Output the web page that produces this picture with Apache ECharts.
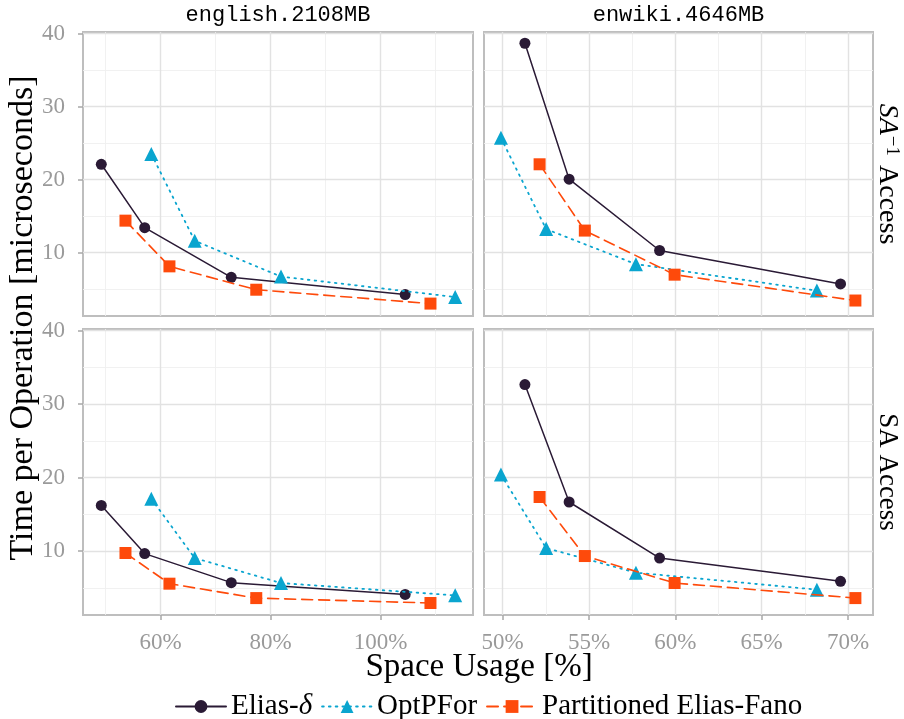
<!DOCTYPE html>
<html>
<head>
    <meta charset="utf-8">
    <title>Time per Operation vs Space Usage</title>
    <script src="https://cdn.jsdelivr.net/npm/echarts@6/dist/echarts.min.js"></script>
    <style>
        html, body { margin: 0; padding: 0; background: #fff; }
        #chart { width: 904px; height: 719px; }
    </style>
</head>
<body>
<div id="chart"></div>
<script>
    // space usage (%) per method, per text
    var engEliasX = [49.2, 57.1, 72.85, 104.5];
    var engOptX = [58.3, 66.2, 81.9, 113.6];
    var engPefX = [53.6, 61.6, 77.4, 109.1];
    var wikiEliasX = [51.29, 53.85, 59.09, 69.57];
    var wikiOptX = [49.9, 52.52, 57.72, 68.2];
    var wikiPefX = [52.14, 54.76, 59.96, 70.43];

    // time per operation (microseconds), SA^-1 access
    var engInvElias = [22.08, 13.4, 6.6, 4.24];
    var engInvOpt = [23.5, 11.6, 6.7, 3.9];
    var engInvPef = [14.36, 8.1, 4.9, 3.0];
    var wikiInvElias = [38.66, 20.04, 10.27, 5.69];
    var wikiInvOpt = [25.7, 13.2, 8.4, 4.78];
    var wikiInvPef = [22.08, 13.0, 6.96, 3.42];

    // time per operation (microseconds), SA access
    var engSaElias = [16.2, 9.65, 5.7, 4.1];
    var engSaOpt = [17.1, 9.05, 5.65, 3.97];
    var engSaPef = [9.73, 5.56, 3.6, 2.93];
    var wikiSaElias = [32.64, 16.67, 9.05, 5.88];
    var wikiSaOpt = [20.4, 10.4, 7.06, 4.75];
    var wikiSaPef = [17.35, 9.32, 5.65, 3.6];

    // ticks
    var yMajor = [10, 20, 30, 40];
    var yMinor = [5, 15, 25, 35];
    var engMajor = [60, 80, 100];
    var engMinor = [50, 70, 90, 110];
    var wikiMajor = [50, 55, 60, 65, 70];
    var wikiMinor = [52.5, 57.5, 62.5, 67.5];

    var methods = ['Elias-δ', 'OptPFor', 'Partitioned Elias-Fano'];

    var serif = '"Liberation Serif", "DejaVu Serif", serif';
    var mono = '"Liberation Mono", "DejaVu Sans Mono", monospace';
    var tickGrey = '#9a9a9a';

    var chart = echarts.init(document.getElementById('chart'));

    var grids = [
        {left: 83, top: 32, width: 390, height: 284},
        {left: 484, top: 32, width: 389, height: 284},
        {left: 83, top: 329, width: 390, height: 286},
        {left: 484, top: 329, width: 389, height: 286}
    ];
    grids.forEach(function (g) {
        g.show = true;
        g.borderColor = '#bebebe';
        g.borderWidth = 2;
        g.backgroundColor = '#fff';
    });

    var xRange = [[45.87, 116.84], [48.92, 71.45], [45.87, 116.84], [48.92, 71.45]];
    var xMaj = [engMajor, wikiMajor, engMajor, wikiMajor];
    var xMin = [engMinor, wikiMinor, engMinor, wikiMinor];

    var xAxes = [], yAxes = [];
    for (var i = 0; i < 4; i++) {
        var bottomRow = i >= 2, leftCol = i % 2 === 0;
        xAxes.push({
            type: 'value', gridIndex: i, min: xRange[i][0], max: xRange[i][1],
            axisLine: {show: false},
            axisTick: {show: bottomRow, customValues: xMaj[i], length: 5, lineStyle: {color: '#a8a8a8', width: 1.5}},
            axisLabel: {show: bottomRow, customValues: xMaj[i], margin: 16,
                fontFamily: serif, fontSize: 23, color: tickGrey,
                formatter: function (v) { return v + '%'; }},
            splitLine: {show: true, lineStyle: {color: '#e2e2e2', width: 1.4}},
            z: 2
        });
        xAxes.push({
            type: 'value', gridIndex: i, min: xRange[i][0], max: xRange[i][1], position: 'bottom',
            axisLine: {show: false},
            axisTick: {show: false, customValues: xMin[i]},
            axisLabel: {show: false},
            splitLine: {show: true, lineStyle: {color: '#efefef', width: 0.9}},
            z: 1
        });
        yAxes.push({
            type: 'value', gridIndex: i, min: 1.3, max: 40.2,
            axisLine: {show: false},
            axisTick: {show: leftCol, customValues: yMajor, length: 5, lineStyle: {color: '#a8a8a8', width: 1.5}},
            axisLabel: {show: leftCol, customValues: yMajor, margin: 18,
                fontFamily: serif, fontSize: 23, color: tickGrey},
            splitLine: {show: true, lineStyle: {color: '#e2e2e2', width: 1.4}},
            z: 2
        });
        yAxes.push({
            type: 'value', gridIndex: i, min: 1.3, max: 40.2, position: 'left',
            axisLine: {show: false},
            axisTick: {show: false, customValues: yMinor},
            axisLabel: {show: false},
            splitLine: {show: true, lineStyle: {color: '#efefef', width: 0.9}},
            z: 1
        });
    }

    function pairs(xs, ys) {
        return xs.map(function (x, k) { return [x, ys[k]]; });
    }

    var styles = [
        {color: '#2a1a35', symbol: 'circle', symbolSize: 11, lineType: 'solid', width: 1.5},
        {color: '#0aa5cf', symbol: 'triangle', symbolSize: 14, lineType: [1.6, 5.2], width: 1.8},
        {color: '#fe4a0b', symbol: 'rect', symbolSize: 12, lineType: [11, 6], width: 1.6}
    ];

    var panelData = [
        [pairs(engEliasX, engInvElias), pairs(engOptX, engInvOpt), pairs(engPefX, engInvPef)],
        [pairs(wikiEliasX, wikiInvElias), pairs(wikiOptX, wikiInvOpt), pairs(wikiPefX, wikiInvPef)],
        [pairs(engEliasX, engSaElias), pairs(engOptX, engSaOpt), pairs(engPefX, engSaPef)],
        [pairs(wikiEliasX, wikiSaElias), pairs(wikiOptX, wikiSaOpt), pairs(wikiPefX, wikiSaPef)]
    ];

    var series = [];
    for (var p = 0; p < 4; p++) {
        for (var m = 0; m < 3; m++) {
            var st = styles[m];
            series.push({
                name: methods[m], type: 'line',
                xAxisIndex: p * 2, yAxisIndex: p * 2,
                data: panelData[p][m],
                symbol: st.symbol, symbolSize: st.symbolSize,
                itemStyle: {color: st.color},
                lineStyle: {color: st.color, type: st.lineType, width: st.width, cap: 'round'},
                emphasis: {disabled: true},
                animation: false, z: 5 + m
            });
        }
    }

    var option = {
        animation: false,
        grid: grids,
        xAxis: xAxes,
        yAxis: yAxes,
        series: series,
        legend: {
            data: methods,
            left: 170, top: 687,
            itemWidth: 50, itemHeight: 16, itemGap: 9,
            textStyle: {
                fontFamily: serif, fontSize: 29, color: '#000',
                rich: {
                    n: {fontFamily: serif, fontSize: 29, color: '#000'},
                    i: {fontFamily: serif, fontSize: 29, color: '#000', fontStyle: 'italic'}
                }
            },
            formatter: function (name) {
                if (name === 'Elias-δ') return '{n|Elias-}{i|δ}';
                return name;
            }
        },
        graphic: [
            {type: 'text', x: 278, y: 15, style: {text: 'english.2108MB', font: '22px ' + mono, fill: '#000', align: 'center', verticalAlign: 'middle'}},
            {type: 'text', x: 678.5, y: 15, style: {text: 'enwiki.4646MB', font: '22px ' + mono, fill: '#000', align: 'center', verticalAlign: 'middle'}},
            {type: 'text', x: 887, y: 174, rotation: -Math.PI / 2, style: {
                text: '{i|SA}{s|−1}{n| Access}', align: 'center', verticalAlign: 'middle', fill: '#000',
                rich: {
                    i: {fontFamily: serif, fontSize: 28, fontStyle: 'italic', fill: '#000'},
                    s: {fontFamily: serif, fontSize: 19, fill: '#000', verticalAlign: 'top', padding: [0, 2, 0, 1]},
                    n: {fontFamily: serif, fontSize: 28, fill: '#000'}
                }}},
            {type: 'text', x: 887, y: 472, rotation: -Math.PI / 2, style: {
                text: 'SA Access', font: '27px ' + serif, fill: '#000', align: 'center', verticalAlign: 'middle'}},
            {type: 'text', x: 23, y: 318, rotation: Math.PI / 2, style: {
                text: 'Time per Operation [microseconds]', font: '34px ' + serif, fill: '#000', align: 'center', verticalAlign: 'middle'}},
            {type: 'text', x: 479, y: 667, style: {
                text: 'Space Usage [%]', font: '33px ' + serif, fill: '#000', align: 'center', verticalAlign: 'middle'}}
        ]
    };
    chart.setOption(option);
</script>
</body>
</html>
